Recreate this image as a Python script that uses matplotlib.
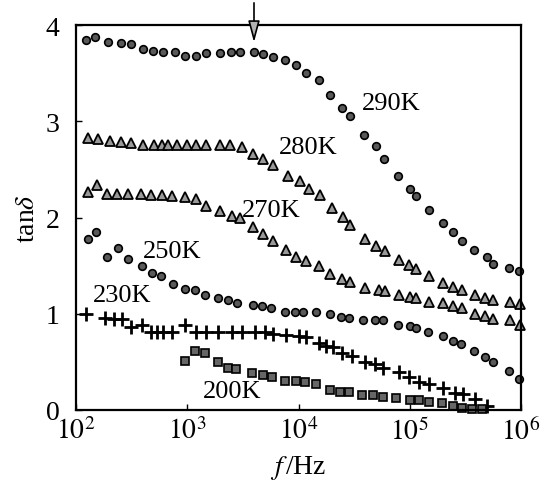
import numpy as np
import matplotlib
matplotlib.use('Agg')
import matplotlib.pyplot as plt

plt.rcParams['font.family'] = ['Liberation Serif', 'DejaVu Serif']
plt.rcParams['mathtext.fontset'] = 'stix'

# data: log10(f / Hz) and tan(delta)
logf_290 = [2.09, 2.17, 2.29, 2.40, 2.49, 2.60, 2.69, 2.78, 2.89, 2.98, 3.08, 3.17, 3.29, 3.39,
            3.47, 3.60, 3.68, 3.77, 3.88, 3.98, 4.07, 4.18, 4.28, 4.39, 4.46, 4.59, 4.70, 4.77,
            4.89, 5.00, 5.06, 5.17, 5.30, 5.39, 5.47, 5.58, 5.69, 5.75, 5.89, 5.98]
tan_290 = [3.84, 3.88, 3.82, 3.81, 3.80, 3.75, 3.73, 3.72, 3.72, 3.68, 3.68, 3.71, 3.71, 3.72,
           3.72, 3.72, 3.70, 3.67, 3.64, 3.58, 3.50, 3.43, 3.27, 3.14, 3.05, 2.86, 2.74, 2.61,
           2.43, 2.30, 2.22, 2.08, 1.94, 1.85, 1.76, 1.66, 1.59, 1.52, 1.48, 1.44]

logf_280 = [2.11, 2.20, 2.31, 2.40, 2.49, 2.60, 2.70, 2.77, 2.83, 2.91, 3.00, 3.08, 3.17, 3.29,
            3.38, 3.49, 3.59, 3.68, 3.77, 3.91, 4.01, 4.09, 4.19, 4.30, 4.40, 4.46, 4.60, 4.70,
            4.78, 4.90, 4.99, 5.06, 5.17, 5.30, 5.39, 5.47, 5.59, 5.68, 5.75, 5.90, 5.99]
tan_280 = [2.83, 2.82, 2.80, 2.78, 2.77, 2.75, 2.75, 2.75, 2.75, 2.75, 2.75, 2.75, 2.75, 2.75,
           2.75, 2.73, 2.66, 2.61, 2.55, 2.43, 2.38, 2.30, 2.23, 2.10, 2.01, 1.92, 1.78, 1.70,
           1.65, 1.56, 1.51, 1.46, 1.39, 1.32, 1.28, 1.25, 1.19, 1.16, 1.14, 1.12, 1.10]

logf_270 = [2.11, 2.19, 2.28, 2.37, 2.47, 2.58, 2.67, 2.77, 2.86, 2.98, 3.08, 3.17, 3.29, 3.40,
            3.47, 3.59, 3.68, 3.77, 3.89, 3.98, 4.07, 4.18, 4.28, 4.39, 4.46, 4.60, 4.72, 4.78,
            4.90, 5.00, 5.06, 5.17, 5.30, 5.39, 5.47, 5.59, 5.68, 5.75, 5.90, 5.99]
tan_270 = [2.26, 2.34, 2.24, 2.24, 2.24, 2.24, 2.23, 2.23, 2.22, 2.21, 2.19, 2.12, 2.07, 2.02,
           1.99, 1.90, 1.83, 1.76, 1.66, 1.59, 1.55, 1.50, 1.41, 1.36, 1.33, 1.27, 1.25, 1.24,
           1.19, 1.17, 1.16, 1.12, 1.11, 1.08, 1.06, 1.00, 0.98, 0.95, 0.93, 0.88]

logf_250 = [2.11, 2.18, 2.28, 2.38, 2.47, 2.59, 2.68, 2.76, 2.87, 2.98, 3.07, 3.16, 3.28, 3.37,
            3.45, 3.59, 3.67, 3.75, 3.88, 3.97, 4.04, 4.16, 4.28, 4.38, 4.45, 4.58, 4.69, 4.76,
            4.89, 5.00, 5.06, 5.16, 5.30, 5.39, 5.46, 5.58, 5.68, 5.75, 5.89, 5.98]
tan_250 = [1.78, 1.85, 1.59, 1.68, 1.57, 1.50, 1.42, 1.39, 1.31, 1.26, 1.25, 1.19, 1.16, 1.14,
           1.11, 1.09, 1.08, 1.06, 1.02, 1.02, 1.02, 1.02, 1.00, 0.97, 0.96, 0.93, 0.94, 0.94,
           0.88, 0.87, 0.85, 0.81, 0.77, 0.72, 0.69, 0.61, 0.55, 0.50, 0.41, 0.32]

logf_230 = [2.09, 2.26, 2.34, 2.41, 2.49, 2.59, 2.67, 2.73, 2.78, 2.86, 2.98, 3.08, 3.17, 3.28,
            3.40, 3.49, 3.61, 3.70, 3.77, 3.89, 4.00, 4.07, 4.18, 4.25, 4.31, 4.39, 4.48, 4.60,
            4.69, 4.76, 4.90, 4.99, 5.08, 5.17, 5.30, 5.41, 5.48, 5.59, 5.69]
tan_230 = [1.00, 0.96, 0.95, 0.95, 0.86, 0.88, 0.81, 0.81, 0.81, 0.81, 0.88, 0.81, 0.81, 0.81,
           0.81, 0.81, 0.81, 0.81, 0.79, 0.78, 0.77, 0.76, 0.70, 0.67, 0.65, 0.59, 0.56, 0.50,
           0.48, 0.44, 0.39, 0.34, 0.29, 0.27, 0.23, 0.18, 0.17, 0.11, 0.04]

logf_200 = [2.98, 3.07, 3.16, 3.28, 3.37, 3.44, 3.58, 3.68, 3.76, 3.88, 3.98, 4.06, 4.16, 4.28,
            4.37, 4.45, 4.57, 4.67, 4.76, 4.88, 5.00, 5.08, 5.17, 5.29, 5.39, 5.47, 5.56, 5.65]
tan_200 = [0.51, 0.61, 0.59, 0.50, 0.44, 0.43, 0.38, 0.36, 0.34, 0.30, 0.30, 0.29, 0.27, 0.21,
           0.19, 0.19, 0.16, 0.16, 0.14, 0.12, 0.10, 0.10, 0.08, 0.07, 0.04, 0.02, 0.01, 0.01]

# label text, log10(f) of left edge, tan(delta) of centre
labels = ['290K', '280K', '270K', '250K', '230K', '200K']
label_logf = [4.57, 3.82, 3.49, 2.60, 2.15, 3.14]
label_tan = [3.19, 2.73, 2.08, 1.65, 1.19, 0.20]

arrow_logf = 3.60

fig = plt.figure(figsize=(5.44, 4.85), dpi=100)
ax = fig.add_axes([76 / 544, 1 - 411 / 485, 445 / 544, 385 / 485])

def f(lf):
    return 10 ** np.array(lf)

ax.plot(f(logf_290), tan_290, 'o', ms=5.5, mfc='0.35', mec='k', mew=1.2, clip_on=False)
ax.plot(f(logf_280), tan_280, '^', ms=7.5, mfc='0.6', mec='k', mew=1.3, clip_on=False)
ax.plot(f(logf_270), tan_270, '^', ms=7.5, mfc='0.6', mec='k', mew=1.3, clip_on=False)
ax.plot(f(logf_250), tan_250, 'o', ms=5.5, mfc='0.35', mec='k', mew=1.2, clip_on=False)
ax.plot(f(logf_230), tan_230, '+', ms=10, mec='k', mew=2.0, clip_on=False)
ax.plot(f(logf_200), tan_200, 's', ms=5.5, mfc='0.4', mec='k', mew=1.2, clip_on=False)

for t, lx, ly in zip(labels, label_logf, label_tan):
    ax.text(10 ** lx, ly, t, fontsize=19, ha='left', va='center')

ax.annotate('', xy=(10 ** arrow_logf, 3.82), xytext=(10 ** arrow_logf, 4.23),
            arrowprops=dict(arrowstyle='-|>,head_length=1.3,head_width=0.35',
                            fc='0.7', ec='k', lw=1.2, shrinkA=0, shrinkB=0),
            annotation_clip=False)

ax.set_xscale('log')
ax.set_xlim(1e2, 1e6)
ax.set_ylim(0, 4)
ax.set_xticks([1e2, 1e3, 1e4, 1e5, 1e6])
ax.set_xticklabels([r'$10^{%d}$' % n for n in range(2, 7)])
ax.xaxis.set_minor_locator(matplotlib.ticker.NullLocator())
ax.set_yticks([0, 1, 2, 3, 4])
ax.tick_params(direction='in', length=4, width=1, labelsize=20, top=False, right=False)
ax.tick_params(axis='y', pad=12)
ax.tick_params(axis='x', pad=5)

for s in ax.spines.values():
    s.set_linewidth(1.6)

ax.set_xlabel(r'$f\,$/Hz', fontsize=20, labelpad=6)
ax.set_ylabel(r'tan$\delta$', fontsize=20, labelpad=4)

fig.savefig('out.png', dpi=100)
